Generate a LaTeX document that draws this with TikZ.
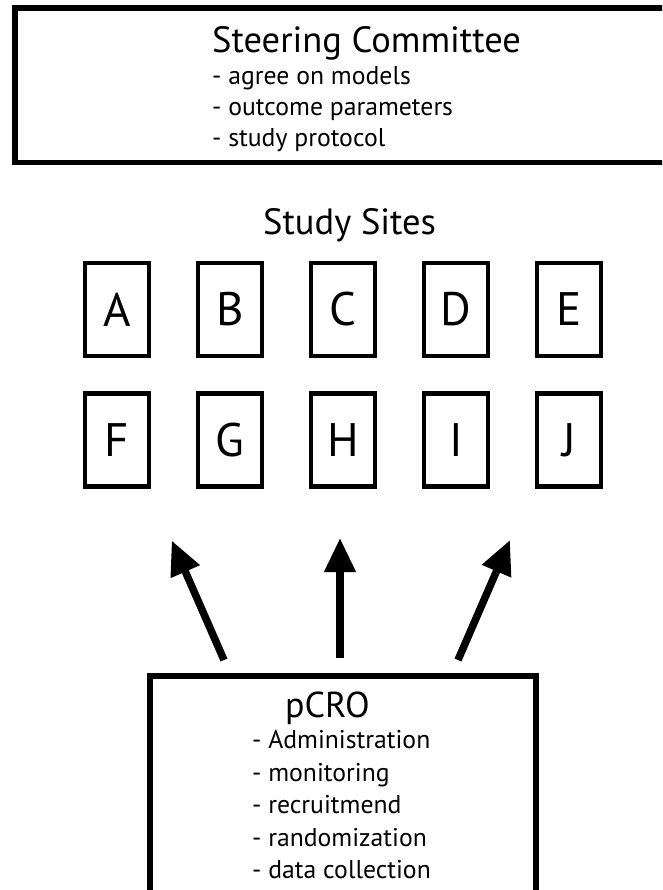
\documentclass[tikz,border=0pt]{standalone}
\usepackage{fontspec}
\setmainfont{PT Sans}
\usetikzlibrary{arrows.meta}
\begin{document}
\begin{tikzpicture}[x=1pt,y=-1pt,
  frame/.style={draw=black, line width=5.5pt, inner sep=0pt, outer sep=0pt},
  site/.style={draw=black, line width=4.7pt, minimum width=64pt, minimum height=93pt, inner sep=0pt, outer sep=0pt, font=\fontsize{47}{50}\selectfont},
  title/.style={anchor=base west, inner sep=0pt, font=\fontsize{36.5}{40}\selectfont},
  item/.style={anchor=base west, inner sep=0pt, font=\fontsize{25.7}{28}\selectfont},
  bigarrow/.style={line width=7.5pt, -{Triangle[length=34pt,width=30pt]}}
]
\clip (0,0) rectangle (662,890);
\fill[white] (0,0) rectangle (662,890);

% Steering committee
\node[frame, minimum width=665pt, minimum height=154.5pt, anchor=north west] (steer) at (15,8) {};
\node[title] (steertitle) at (212,53) {Steering Committee};
\node[item] (s1) at (212,85) {- agree on models};
\node[item] (s2) at (212,116) {- outcome parameters};
\node[item] (s3) at (212,147) {- study protocol};

% Study sites
\node[title] (sites) at (263,235) {Study Sites};
\node[site] (A) at (117,309.5) {A};
\node[site] (B) at (230,309.5) {B};
\node[site] (C) at (343,309.5) {C};
\node[site] (D) at (456,309.5) {D};
\node[site] (E) at (569,309.5) {E};
\node[site] (F) at (117,440) {F};
\node[site] (G) at (230,440) {G};
\node[site] (H) at (343,440) {H};
\node[site] (I) at (456,440) {I};
\node[site] (J) at (569,440) {J};

% pCRO
\node[frame, minimum width=386pt, minimum height=260pt, anchor=north west] (pcro) at (150,676) {};
\node[title, font=\fontsize{36}{40}\selectfont] (pcrotitle) at (285,717) {pCRO};
\node[item] (p1) at (252,748) {- Administration};
\node[item] (p2) at (252,781) {- monitoring};
\node[item] (p3) at (252,813) {- recruitmend};
\node[item] (p4) at (252,846) {- randomization};
\node[item] (p5) at (252,878) {- data collection};

% arrows
\coordinate (t1) at (224,660);
\coordinate (h1) at (171.7,540.5);
\coordinate (t2) at (340,658);
\coordinate (h2) at (340,538);
\coordinate (t3) at (458,660);
\coordinate (h3) at (510,540);
\draw[bigarrow] (t1) -- (h1);
\draw[bigarrow] (t2) -- (h2);
\draw[bigarrow] (t3) -- (h3);
\end{tikzpicture}
\end{document}
